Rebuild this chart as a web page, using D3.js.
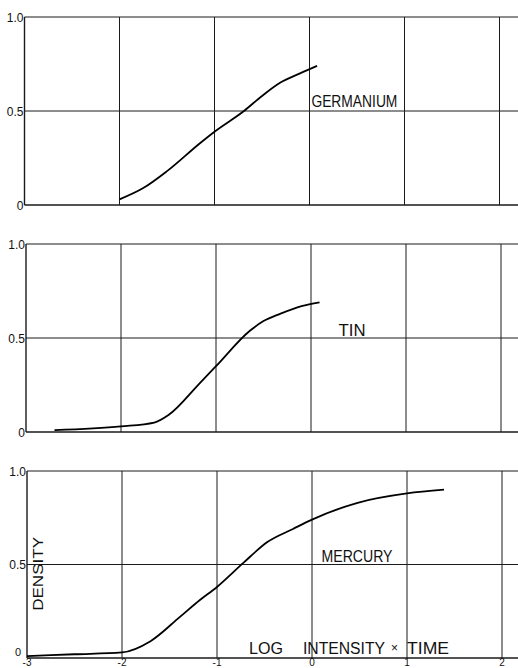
<!DOCTYPE html>
<html>
<head>
<meta charset="utf-8">
<script src="https://cdn.jsdelivr.net/npm/d3@7"></script>
<style>
  html, body { margin: 0; padding: 0; background: #fff; }
  svg { display: block; }
  text { font-family: "Liberation Sans", Arial, sans-serif; fill: #111; }
</style>
</head>
<body>
<svg id="chart" width="518" height="668"></svg>
<script>
// log(intensity x time) vs density
var xTicks = [-3, -2, -1, 0, 1, 2],
    yTicks = [0, 0.5, 1.0],
    yTickLabels = ["0", "0.5", "1.0"];

var germanium = [
  [-2.0, 0.03], [-1.75, 0.09], [-1.5, 0.18], [-1.15, 0.33], [-1.0, 0.39],
  [-0.69, 0.50], [-0.5, 0.58], [-0.31, 0.65], [-0.1, 0.70], [0.08, 0.74]
];
var tin = [
  [-2.7, 0.01], [-2.0, 0.03], [-1.65, 0.05], [-1.5, 0.09], [-1.17, 0.26],
  [-1.0, 0.35], [-0.64, 0.54], [-0.5, 0.59], [-0.32, 0.63], [-0.1, 0.67], [0.09, 0.69]
];
var mercury = [
  [-3.0, 0.01], [-2.5, 0.02], [-2.0, 0.03], [-1.7, 0.09], [-1.39, 0.22],
  [-1.18, 0.31], [-1.0, 0.38], [-0.72, 0.51], [-0.47, 0.62], [-0.2, 0.69],
  [0.0, 0.74], [0.48, 0.83], [1.0, 0.88], [1.39, 0.90]
];

var names = ["GERMANIUM", "TIN", "MERCURY"],
    series = [germanium, tin, mercury],
    labelAt = [[0.02, 0.52], [0.29, 0.51], [0.10, 0.515]],
    xTitle = ["LOG", "INTENSITY", "\u00d7", "TIME"];

// panel layout (pixels)
var panels = [
  { top: 17,  bottom: 205, shift: 0,   labelW: 86 },
  { top: 244, bottom: 432, shift: 1.5, labelW: 27 },
  { top: 471, bottom: 658, shift: 2.5, labelW: 71 }
];
var titleX = [249, 303, 391, 407],
    titleW = [34, 82, 0, 42];

var svg = d3.select("#chart");

panels.forEach(function(p, i) {
  var x = d3.scaleLinear().domain([-3, 2]).range([24.5 + p.shift, 499.5 + p.shift]),
      y = d3.scaleLinear().domain([0, 1]).range([p.bottom, p.top]),
      g = svg.append("g").attr("class", "panel panel-" + i),
      last = i === panels.length - 1;

  var right = 530;

  // frame + grid
  g.selectAll("line.hgrid")
    .data(yTicks)
    .enter().append("line")
      .attr("class", "hgrid")
      .attr("x1", x(-3)).attr("x2", right)
      .attr("y1", function(d) { return y(d); })
      .attr("y2", function(d) { return y(d); })
      .attr("stroke", "#1a1a1a")
      .attr("stroke-width", function(d) { return d === 0 ? 1.4 : 1; });

  g.selectAll("line.vgrid")
    .data(xTicks)
    .enter().append("line")
      .attr("class", "vgrid")
      .attr("x1", function(d) { return x(d); })
      .attr("x2", function(d) { return x(d); })
      .attr("y1", y(1)).attr("y2", y(0))
      .attr("stroke", "#1a1a1a")
      .attr("stroke-width", function(d) { return d === -3 ? 1.4 : 1; });

  // y tick labels ("0" of the last panel sits up and left, clear of the x labels)
  var low = function(d) { return last && d === 0; };
  g.selectAll("text.ylab")
    .data(yTicks)
    .enter().append("text")
      .attr("class", "ylab")
      .attr("x", function(d) { return low(d) ? x(-3) - 6 : x(-3) - 1; })
      .attr("y", function(d) { return low(d) ? y(d) - 2 : y(d) + 4.5; })
      .attr("text-anchor", "end")
      .style("font-size", function(d) { return low(d) ? "11px" : "12px"; })
      .text(function(d, k) { return yTickLabels[k]; });

  // curve
  var line = d3.line()
    .x(function(d) { return x(d[0]); })
    .y(function(d) { return y(d[1]); })
    .curve(d3.curveMonotoneX);

  g.append("path")
    .datum(series[i])
    .attr("d", line)
    .attr("fill", "none")
    .attr("stroke", "#000")
    .attr("stroke-width", 1.8);

  g.append("text")
    .attr("x", x(labelAt[i][0]))
    .attr("y", y(labelAt[i][1]))
    .attr("textLength", p.labelW)
    .attr("lengthAdjust", "spacingAndGlyphs")
    .style("font-size", "16px")
    .text(names[i]);

  if (last) {
    g.selectAll("text.xlab")
      .data(xTicks)
      .enter().append("text")
        .attr("class", "xlab")
        .attr("x", function(d) { return x(d); })
        .attr("y", 666)
        .attr("text-anchor", "middle")
        .style("font-size", "10px")
        .text(function(d) { return d; });

    g.append("text")
      .attr("transform", "translate(" + (x(-3) + 16) + "," + y(0.45) + ") rotate(-90)")
      .attr("text-anchor", "middle")
      .attr("textLength", 74)
      .attr("lengthAdjust", "spacingAndGlyphs")
      .style("font-size", "15px")
      .text("DENSITY");

    g.selectAll("text.xtitle")
      .data(xTitle)
      .enter().append("text")
        .attr("class", "xtitle")
        .attr("x", function(d, k) { return titleX[k]; })
        .attr("y", function(d, k) { return k === 2 ? p.bottom - 6 : p.bottom - 4; })
        .each(function(d, k) {
          if (titleW[k]) d3.select(this).attr("textLength", titleW[k]).attr("lengthAdjust", "spacingAndGlyphs");
        })
        .style("font-size", function(d, k) { return k === 2 ? "12px" : "16px"; })
        .text(function(d) { return d; });
  }
});
</script>
</body>
</html>
